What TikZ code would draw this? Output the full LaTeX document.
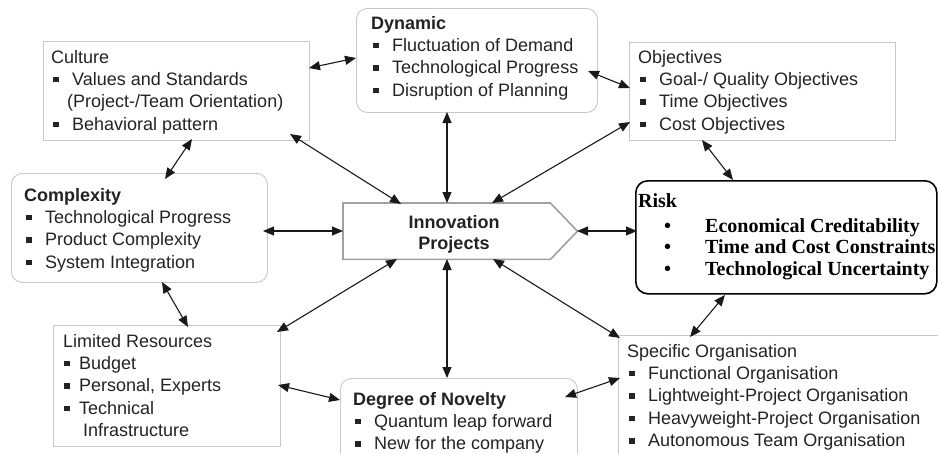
\documentclass[tikz,border=0pt]{standalone}
\usepackage{fontspec}
\setmainfont{Liberation Sans}
\newfontfamily\riskfont{Liberation Serif}
\usetikzlibrary{arrows.meta}
\definecolor{boxgray}{RGB}{200,200,200}
\definecolor{innogray}{RGB}{160,160,160}
\definecolor{txt}{RGB}{35,35,35}
\newcommand\bul{\hspace{2pt}\rule[3pt]{5.5pt}{5.5pt}\hspace{13.5pt}}
\newcommand\bulb{\hspace{1pt}\rule[3pt]{5.5pt}{5.5pt}\hspace{9.5pt}}
\newcommand\tl[1]{\begin{tabular}[t]{@{}l@{}}#1\end{tabular}}
\newcommand\tc[1]{\begin{tabular}[t]{@{}c@{}}#1\end{tabular}}
\begin{document}
\begin{tikzpicture}[x=1pt,y=-1pt,
  sqbox/.style={draw=boxgray,line width=0.9pt,inner sep=0pt,anchor=north west},
  rbox/.style={sqbox,rounded corners=11pt},
  riskbox/.style={draw=black,line width=1.6pt,inner sep=0pt,anchor=north west,rounded corners=12pt},
  lbl/.style={anchor=base west,inner sep=0pt,text=txt,font=\fontsize{18}{22.4}\selectfont},
  conn/.style={draw=black!90,line width=1.1pt,{Triangle[length=11pt,width=9pt]}-{Triangle[length=11pt,width=9pt]}}]
\useasboundingbox (0,0) rectangle (938,453);
\clip (0,0) rectangle (938,453);
% boxes
\node[sqbox,minimum width=266pt,minimum height=99pt] (culture) at (43,41) {};
\node[rbox,minimum width=241pt,minimum height=104pt] (dyn) at (356,8) {};
\node[sqbox,minimum width=266pt,minimum height=98pt] (obj) at (629,42) {};
\node[rbox,minimum width=256pt,minimum height=109pt] (cplx) at (11,173) {};
\node[inner sep=0pt,minimum width=207pt,minimum height=56pt,anchor=north west] (inno) at (343,203) {};
\draw[draw=innogray,line width=1.6pt] (inno.north west) -- (inno.north east) -- ([shift={(27,0)}]inno.east) -- (inno.south east) -- (inno.south west) -- cycle;
\node[riskbox,minimum width=301pt,minimum height=113pt] (risk) at (635,180) {};
\node[sqbox,minimum width=227pt,minimum height=121pt] (lim) at (53,325) {};
\node[rbox,minimum width=237pt,minimum height=120pt] (nov) at (340,378) {};
\node[sqbox,minimum width=400pt,minimum height=200pt] (spec) at (618,335) {};
% texts
\node[lbl] (culturetxt) at (51,63) {\tl{Culture\\\bul Values and Standards\\\hspace{16pt}(Project-/Team Orientation)\\\bul Behavioral pattern}};
\node[lbl] (dyntxt) at (371,29) {\tl{\textbf{Dynamic}\\\bul Fluctuation of Demand\\\bul Technological Progress\\\bul Disruption of Planning}};
\node[lbl] (objtxt) at (638,63) {\tl{Objectives\\\bul Goal-/ Quality Objectives\\\bul Time Objectives\\\bul Cost Objectives}};
\node[lbl] (cplxtxt) at (24,201) {\tl{\textbf{Complexity}\\\bul Technological Progress\\\bul Product Complexity\\\bul System Integration}};
\node[anchor=base,inner sep=0pt,text=txt,font=\fontsize{18}{21}\selectfont\bfseries] (innotxt) at (454,228) {\tc{Innovation\\Projects}};
\node[anchor=base west,inner sep=0pt,text=black,font=\riskfont\bfseries\fontsize{20}{21.5}\selectfont] (risktxt) at (638,207) {\tl{Risk\\[3.5pt]\hspace{26pt}\makebox[41pt][l]{\textbullet}Economical Creditability\\\hspace{26pt}\makebox[41pt][l]{\textbullet}Time and Cost Constraints\\\hspace{26pt}\makebox[41pt][l]{\textbullet}Technological Uncertainty}};
\node[lbl] (limtxt) at (63,347) {\tl{Limited Resources\\\bulb Budget\\\bulb Personal, Experts\\\bulb Technical\\\hspace{20pt}Infrastructure}};
\node[lbl] (novtxt) at (353,405) {\tl{\textbf{Degree of Novelty}\\\bul Quantum leap forward\\\bul New for the company}};
\node[lbl] (spectxt) at (627,357) {\tl{Specific Organisation\\\bul Functional Organisation\\\bul Lightweight-Project Organisation\\\bul Heavyweight-Project Organisation\\\bul Autonomous Team Organisation}};
% connectors
\draw[conn] ([shift={(266,27)}]culture.north west) -- ([shift={(0,50)}]dyn.north west);
\draw[conn] ([shift={(149,98)}]culture.north west) -- ([shift={(154,6)}]cplx.north west);
\draw[conn] ([shift={(247,93)}]culture.north west) -- ([shift={(58,1)}]inno.north west);
\draw[conn] ([shift={(91,104)}]dyn.north west) -- ([shift={(104,0)}]inno.north west);
\draw[conn] ([shift={(232,63)}]dyn.north west) -- ([shift={(1,46)}]obj.north west);
\draw[conn] ([shift={(1,80)}]obj.north west) -- ([shift={(149,0)}]inno.north west);
\draw[conn] ([shift={(73,98)}]obj.north west) -- ([shift={(98,0)}]risk.north west);
\draw[conn] ([shift={(252,58)}]cplx.north west) -- ([shift={(0,28)}]inno.north west);
\draw[conn] ([shift={(234,28)}]inno.north west) -- ([shift={(2,51)}]risk.north west);
\draw[conn] ([shift={(151,109)}]cplx.north west) -- ([shift={(135,2)}]lim.north west);
\draw[conn] ([shift={(54,56)}]inno.north west) -- ([shift={(224,7)}]lim.north west);
\draw[conn] ([shift={(104,56)}]inno.north west) -- ([shift={(107,0)}]nov.north west);
\draw[conn] ([shift={(150,56)}]inno.north west) -- ([shift={(2,3)}]spec.north west);
\draw[conn] ([shift={(225,60)}]lim.north west) -- ([shift={(0,22)}]nov.north west);
\draw[conn] ([shift={(225,19)}]nov.north west) -- ([shift={(2,43)}]spec.north west);
\draw[conn] ([shift={(90,115)}]risk.north west) -- ([shift={(72,2)}]spec.north west);
\end{tikzpicture}
\end{document}
